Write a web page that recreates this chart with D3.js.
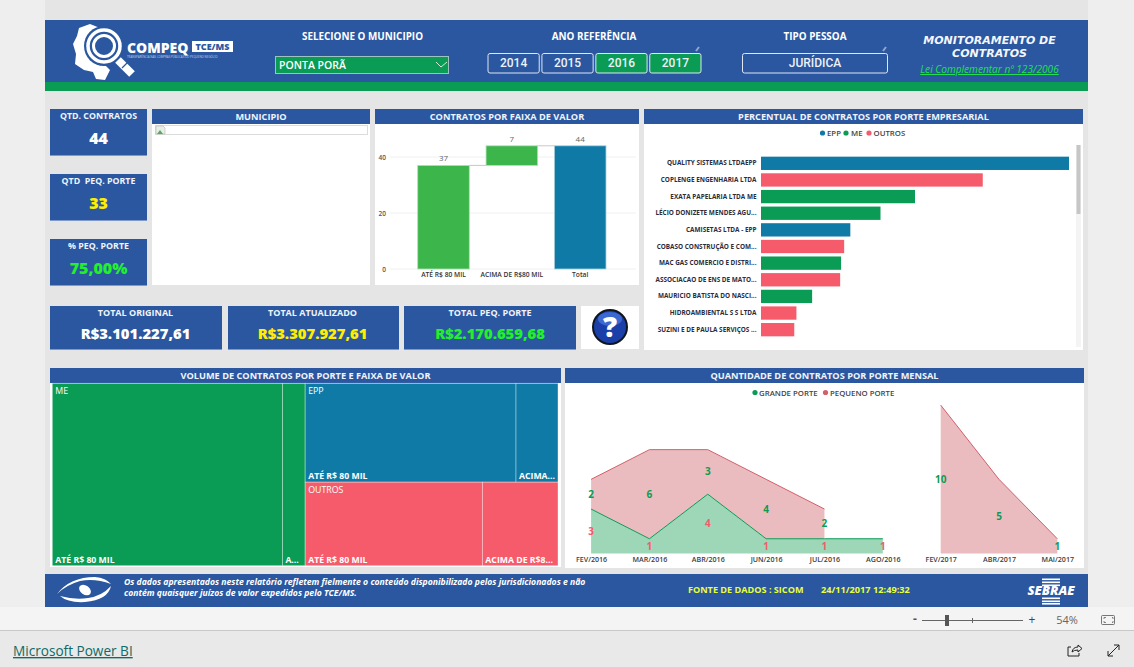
<!DOCTYPE html>
<html>
<head>
<meta charset="utf-8">
<script src="https://cdn.jsdelivr.net/npm/d3@7"></script>
<style>
  html, body { margin: 0; padding: 0; background: #eeeeee; overflow: hidden; }
  svg { display: block; }
  text { font-family: "Open Sans", sans-serif; }
  .axis path, .axis line { display: none; }
</style>
</head>
<body>
<div id="chart"></div>
<script>
// Colours
const BLUE = '#2a57a0', GREEN = '#0a9b54', TEAL = '#107aa6', PINK = '#f55b6a';
const BAR_GREEN = '#3cb54b', AREA_RED = '#d0616a';

// Waterfall data
const faixaLabels = ['ATÉ R$ 80 MIL', 'ACIMA DE R$80 MIL', 'Total'];
const faixaStart = [0, 37, 0];
const faixaEnd = [37, 44, 44];
const faixaText = ['37', '7', '44'];
const faixaTicks = [0, 20, 40];

// Horizontal bars
const empresas = ['QUALITY SISTEMAS LTDAEPP', 'COPLENGE ENGENHARIA LTDA', 'EXATA PAPELARIA LTDA ME',
  'LÉCIO DONIZETE MENDES AGU...', 'CAMISETAS LTDA - EPP', 'COBASO CONSTRUÇÃO E COM...',
  'MAC GAS COMERCIO E DISTRI...', 'ASSOCIACAO DE ENS DE MATO...', 'MAURICIO BATISTA DO NASCI...',
  'HIDROAMBIENTAL S S LTDA', 'SUZINI E DE PAULA SERVIÇOS ...'];
const empresaPct = [100, 72, 50, 38.8, 29, 27, 26, 25.7, 16.6, 11.5, 10.8];
const empresaPorte = ['EPP', 'OUTROS', 'ME', 'ME', 'EPP', 'OUTROS', 'ME', 'OUTROS', 'ME', 'OUTROS', 'OUTROS'];
const porteNames = ['EPP', 'ME', 'OUTROS'];

// Treemap shares (%)
const tmME = [45.5, 4.5];
const tmEPP = [22.6, 4.5];
const tmOUTROS = [16.05, 6.85];
const tmLabelsME = ['ATÉ R$ 80 MIL', 'A...'];
const tmLabelsEPP = ['ATÉ R$ 80 MIL', 'ACIMA...'];
const tmLabelsOUTROS = ['ATÉ R$ 80 MIL', 'ACIMA DE R$8...'];

// Monthly contracts, two separate runs of months
const meses2016 = ['FEV/2016', 'MAR/2016', 'ABR/2016', 'JUN/2016', 'JUL/2016', 'AGO/2016'];
const grande2016 = [3, 1, 4, 1, 1, 1];
const pequeno2016 = [2, 6, 3, 4, 2, null];
const meses2017 = ['FEV/2017', 'ABR/2017', 'MAI/2017'];
const grande2017 = [null, null, null];
const pequeno2017 = [10, 5, 1];

const svg = d3.select('#chart').append('svg').attr('width', 1134).attr('height', 667);

function rect(x0, y0, x1, y1, fill) {
  return svg.append('rect').attr('x', x0).attr('y', y0).attr('width', x1 - x0).attr('height', y1 - y0).attr('fill', fill);
}
function label(x, y, str, size, fill, weight, anchor) {
  return svg.append('text').attr('x', x).attr('y', y).text(str)
    .attr('font-size', size).attr('fill', fill)
    .attr('font-weight', weight || 600).attr('text-anchor', anchor || 'middle');
}
function panelHead(x0, x1, y0, str) {
  rect(x0, y0, x1, y0 + 15, BLUE);
  label((x0 + x1) / 2, y0 + 11, str, 9.2, '#f0f4fa', 700);
}

// Page background
rect(45, 0, 1088, 607, '#e5e5e5');
rect(0, 607, 1134, 631, '#f4f4f4');
rect(0, 631, 1134, 667, '#e9e9e9');
rect(0, 630, 1134, 631, '#c8c8c8');

// ---------- Header ----------
rect(45, 20, 1088, 82, BLUE);
rect(45, 82, 1088, 91, GREEN);

// Logo: state outline + magnifier
svg.append('path').attr('fill', '#fff')
  .attr('d', 'M79 28 L90 24 L100 28 L114 32 L106 42 L100 60 L110 70 L105 80 L96 79 L93 72 L84 70 L75 64 L76 54 L73 44 L77 36 Z');
svg.append('circle').attr('cx', 104).attr('cy', 46).attr('r', 20).attr('fill', BLUE);
svg.append('circle').attr('cx', 104).attr('cy', 46).attr('r', 16).attr('fill', 'none').attr('stroke', '#fff').attr('stroke-width', 3.5);
svg.append('circle').attr('cx', 104).attr('cy', 46).attr('r', 10.5).attr('fill', BLUE).attr('stroke', '#fff').attr('stroke-width', 3);
svg.append('line').attr('x1', 118).attr('y1', 60).attr('x2', 132).attr('y2', 74).attr('stroke', '#fff').attr('stroke-width', 8);
svg.append('line').attr('x1', 122).attr('y1', 68).attr('x2', 128).attr('y2', 62).attr('stroke', BLUE).attr('stroke-width', 1.2);
label(127, 52.5, 'COMPEQ', 14, '#fff', 800, 'start');
rect(192, 41, 233, 52, '#fff');
label(212.5, 50, 'TCE/MS', 9, BLUE, 800);
label(127, 58, 'TRANSPARÊNCIA NAS COMPRAS PÚBLICAS DO PEQUENO NEGÓCIO', 2.9, '#c8d4ea', 400, 'start');

label(362.5, 40, 'SELECIONE O MUNICIPIO', 9.9, '#fff', 700);
label(594, 40, 'ANO REFERÊNCIA', 9.9, '#fff', 700);
label(815, 40, 'TIPO PESSOA', 9.9, '#fff', 700);

// Município dropdown
rect(275.5, 56.5, 448.5, 73.5, GREEN).attr('stroke', '#9cc3c0').attr('stroke-width', 1);
label(279, 69, 'PONTA PORÃ', 10.5, '#fff', 600, 'start');
svg.append('path').attr('d', 'M436 62 L441 67 L447 62').attr('fill', 'none').attr('stroke', '#cfe9dd').attr('stroke-width', 1);

// Year slicer
const anos = ['2014', '2015', '2016', '2017'];
const anosAtivos = ['2016', '2017'];
const anoX = d3.scaleBand().domain(anos).range([488, 701]).paddingInner(0.05);
anos.forEach(a => {
  svg.append('rect').attr('x', anoX(a)).attr('y', 53.5).attr('width', anoX.bandwidth()).attr('height', 19.5)
    .attr('rx', 2).attr('fill', anosAtivos.includes(a) ? GREEN : BLUE).attr('stroke', '#dfe7f3').attr('stroke-width', 1);
  label(anoX(a) + anoX.bandwidth() / 2, 67, a, 12, '#eef2f8', 500).style('font-family', 'Roboto, sans-serif');
});

// Tipo pessoa
svg.append('rect').attr('x', 742.5).attr('y', 53.5).attr('width', 145).attr('height', 19.5).attr('rx', 2)
  .attr('fill', BLUE).attr('stroke', '#dfe7f3').attr('stroke-width', 1);
label(815, 67, 'JURÍDICA', 12, '#eef2f8', 500).style('font-family', 'Roboto, sans-serif');

// Small pencil marks over the slicers
[698, 885].forEach(x => {
  svg.append('line').attr('x1', x - 2).attr('y1', 51).attr('x2', x + 1).attr('y2', 47).attr('stroke', '#8fa6cc').attr('stroke-width', 2);
});

// Title block
label(989.5, 44, 'MONITORAMENTO DE', 11, '#f4f6fb', 700).attr('font-style', 'italic').style('font-family', '"DejaVu Sans", sans-serif');
label(989.5, 57, 'CONTRATOS', 11, '#f4f6fb', 700).attr('font-style', 'italic').style('font-family', '"DejaVu Sans", sans-serif');
label(989.5, 73, 'Lei Complementar nº 123/2006', 10.1, '#21e04b', 400).attr('font-style', 'italic').attr('text-decoration', 'underline');

// ---------- KPI cards ----------
const kpiTitles = ['QTD. CONTRATOS', 'QTD  PEQ. PORTE', '% PEQ. PORTE'];
const kpiValues = ['44', '33', '75,00%'];
const kpiColors = ['#ffffff', '#ffee00', '#22f02c'];
kpiTitles.forEach((t, i) => {
  const y0 = [109, 174, 239][i];
  rect(50, y0, 147, y0 + 46, BLUE);
  rect(50, y0 + 46, 147, y0 + 47, '#7f9ac8');
  label(98.5, y0 + 10, t, 8.8, '#f0f4fa', 700).style('white-space', 'pre');
  label(98.5, y0 + 35, kpiValues[i], 16, kpiColors[i], 800);
});

const totalTitles = ['TOTAL ORIGINAL', 'TOTAL ATUALIZADO', 'TOTAL PEQ. PORTE'];
const totalValues = ['R$3.101.227,61', 'R$3.307.927,61', 'R$2.170.659,68'];
const totalColors = ['#ffffff', '#ffee00', '#22f02c'];
const totalX = [[50, 222], [228, 399], [404, 576]];
const totalCenter = [135.5, 312.5, 490];
totalTitles.forEach((t, i) => {
  const [x0, x1] = totalX[i];
  rect(x0, 306, x1, 349, BLUE);
  rect(x0, 349, x1, 350, '#7f9ac8');
  label(totalCenter[i], 316, t, 9, '#f0f4fa', 700);
  label(totalCenter[i], 339, totalValues[i], 14.8, totalColors[i], 800);
});

// Help button
rect(581, 306, 639, 349, '#ffffff');
svg.append('circle').attr('cx', 610).attr('cy', 327).attr('r', 17).attr('fill', '#1a3fa8').attr('stroke', '#10151f').attr('stroke-width', 2);
svg.append('ellipse').attr('cx', 610).attr('cy', 319).attr('rx', 12).attr('ry', 7).attr('fill', '#4c7ce0').attr('opacity', 0.7);
label(610, 337, '?', 28, '#ffffff', 800);

// ---------- Municipio panel ----------
panelHead(152, 370, 109, 'MUNICIPIO');
rect(152, 124, 370, 285, '#ffffff');
svg.append('rect').attr('x', 155.5).attr('y', 125.5).attr('width', 212).attr('height', 9)
  .attr('fill', '#fff').attr('stroke', '#dcdcdc').attr('stroke-width', 1);
// broken image placeholder
svg.append('path').attr('d', 'M156 126 h7 l2 2 v6 h-9 Z').attr('fill', '#e8efe6').attr('stroke', '#b5b5b5').attr('stroke-width', 0.6);
svg.append('path').attr('d', 'M157 134 l3 -4 l3 4 Z').attr('fill', '#5aa860');

// ---------- Waterfall ----------
panelHead(375, 639, 109, 'CONTRATOS POR FAIXA DE VALOR');
rect(375, 124, 639, 285, '#ffffff');
const wfX = d3.scaleBand().domain(faixaLabels).range([417.7, 606]).paddingInner(0.245).paddingOuter(0);
const wfY = d3.scaleLinear().domain([0, 40]).range([269, 157]);

svg.append('g').selectAll('line').data(faixaTicks).join('line')
  .attr('x1', 390).attr('x2', 636).attr('y1', d => wfY(d)).attr('y2', d => wfY(d))
  .attr('stroke', '#f0f0f0').attr('stroke-width', 1);

svg.append('g').attr('class', 'axis').attr('transform', 'translate(386,0)')
  .call(d3.axisLeft(wfY).tickValues(faixaTicks).tickSize(0).tickPadding(0))
  .call(g => g.selectAll('text').attr('font-size', 6.5).attr('fill', '#555').attr('font-weight', 600)
    .style('font-family', '"Open Sans", sans-serif'));

// connector lines between the steps
faixaEnd.slice(0, -1).forEach((v, i) => {
  svg.append('line').attr('x1', wfX(faixaLabels[i]) + wfX.bandwidth()).attr('x2', wfX(faixaLabels[i + 1]))
    .attr('y1', wfY(v)).attr('y2', wfY(v)).attr('stroke', '#c8c8c8').attr('stroke-width', 1);
});

svg.append('g').selectAll('rect').data(faixaLabels).join('rect')
  .attr('x', d => wfX(d)).attr('width', wfX.bandwidth())
  .attr('y', (d, i) => wfY(faixaEnd[i]))
  .attr('height', (d, i) => wfY(faixaStart[i]) - wfY(faixaEnd[i]))
  .attr('fill', (d, i) => i === 2 ? TEAL : BAR_GREEN)
  .attr('stroke', (d, i) => i === 2 ? '#a9cfdf' : '#b3dfb9').attr('stroke-width', 0.8);

faixaLabels.forEach((d, i) => {
  label(wfX(d) + wfX.bandwidth() / 2, wfY(faixaEnd[i]) - 4, faixaText[i], 8, '#666', 500);
});

svg.append('g').attr('class', 'axis').attr('transform', 'translate(0,269)')
  .call(d3.axisBottom(wfX).tickSize(0).tickPadding(3))
  .call(g => g.selectAll('text').attr('font-size', 6.7).attr('fill', '#333').attr('font-weight', 600)
    .style('font-family', '"Open Sans", sans-serif'));

// ---------- Horizontal bars ----------
panelHead(644, 1083, 109, 'PERCENTUAL DE CONTRATOS POR PORTE EMPRESARIAL');
rect(644, 124, 1083, 350, '#ffffff');
const porteColor = d3.scaleOrdinal().domain(porteNames).range([TEAL, GREEN, PINK]);

// legend
[[822.5, 827], [846, 851], [869, 873.5]].forEach(([cx, tx], i) => {
  svg.append('circle').attr('cx', cx).attr('cy', 133).attr('r', 2.6).attr('fill', porteColor(porteNames[i]));
  label(tx, 136, porteNames[i], 7.8, '#444', 600, 'start');
});

const barX = d3.scaleLinear().domain([0, 100]).range([761, 1069]);
const barY = d3.scaleBand().domain(empresas).range([155, 338]).paddingInner(0.2).paddingOuter(0.1);

svg.append('g').selectAll('rect').data(empresas).join('rect')
  .attr('x', barX(0)).attr('y', d => barY(d))
  .attr('width', (d, i) => barX(empresaPct[i]) - barX(0)).attr('height', barY.bandwidth())
  .attr('fill', (d, i) => porteColor(empresaPorte[i]));

svg.append('g').attr('class', 'axis').attr('transform', 'translate(760,0)')
  .call(d3.axisLeft(barY).tickSize(0).tickPadding(3.5))
  .call(g => g.selectAll('text').attr('font-size', 6.4).attr('fill', '#2c2c3c').attr('font-weight', 700)
    .style('font-family', '"Open Sans", sans-serif'));

// scrollbar
rect(1076, 145, 1081, 347, '#f4f4f4');
rect(1076.5, 145, 1080.5, 214, '#c6c6c6');

// ---------- Treemap ----------
panelHead(50, 561, 368, 'VOLUME DE CONTRATOS POR PORTE E FAIXA DE VALOR');
rect(50, 383, 561, 567, '#ffffff');

const tmData = {
  name: 'root',
  children: [
    { name: 'ME', color: GREEN, children: tmME.map((v, i) => ({ name: tmLabelsME[i], value: v })) },
    { name: 'EPP', color: TEAL, children: tmEPP.map((v, i) => ({ name: tmLabelsEPP[i], value: v })) },
    { name: 'OUTROS', color: PINK, children: tmOUTROS.map((v, i) => ({ name: tmLabelsOUTROS[i], value: v })) }
  ]
};
// biggest group takes a full-height column, the others stack on its right
function tmTile(node, x0, y0, x1, y1) {
  if (node.depth === 0) {
    const first = node.children[0];
    const xm = x0 + (x1 - x0) * first.value / node.value;
    first.x0 = x0; first.x1 = xm; first.y0 = y0; first.y1 = y1;
    const rest = { children: node.children.slice(1), value: node.value - first.value };
    d3.treemapSlice(rest, xm, y0, x1, y1);
  } else {
    d3.treemapDice(node, x0, y0, x1, y1);
  }
}
const tmRoot = d3.hierarchy(tmData).sum(d => d.value || 0);
d3.treemap().tile(tmTile).size([505.7, 182.4])(tmRoot);

const tmG = svg.append('g').attr('transform', 'translate(52.3,383.3)');
tmG.selectAll('rect').data(tmRoot.leaves()).join('rect')
  .attr('x', d => d.x0).attr('y', d => d.y0)
  .attr('width', d => d.x1 - d.x0).attr('height', d => d.y1 - d.y0)
  .attr('fill', d => d.parent.data.color)
  .attr('stroke', 'rgba(255,255,255,0.45)').attr('stroke-width', 0.8);
tmG.selectAll('text.group').data(tmRoot.children).join('text').attr('class', 'group')
  .attr('x', d => d.x0 + 3).attr('y', d => d.y0 + 11).text(d => d.data.name)
  .attr('font-size', 8.8).attr('fill', '#fff').attr('font-weight', 500);
tmG.selectAll('text.leaf').data(tmRoot.leaves()).join('text').attr('class', 'leaf')
  .attr('x', d => d.x0 + 3).attr('y', d => d.y1 - 3).text(d => d.data.name)
  .attr('font-size', 8.7).attr('fill', '#fff').attr('font-weight', 700);

// ---------- Area chart ----------
panelHead(565, 1084, 368, 'QUANTIDADE DE CONTRATOS POR PORTE MENSAL');
rect(565, 383, 1084, 568, '#ffffff');

svg.append('circle').attr('cx', 755).attr('cy', 392.5).attr('r', 2.6).attr('fill', GREEN);
label(759, 395.5, 'GRANDE PORTE', 7.8, '#444', 600, 'start');
svg.append('circle').attr('cx', 825.5).attr('cy', 392.5).attr('r', 2.6).attr('fill', AREA_RED);
label(830, 395.5, 'PEQUENO PORTE', 7.8, '#444', 600, 'start');

const areaY = d3.scaleLinear().domain([0, 10]).range([553.6, 405.1]);

function drawRun(meses, grande, pequeno, x0, x1) {
  const x = d3.scalePoint().domain(meses).range([x0, x1]);
  const rows = meses.map((m, i) => ({
    m, g: grande[i] || 0, p: pequeno[i], hasG: grande[i] != null, hasP: pequeno[i] != null
  }));

  const green = rows.filter(d => d.hasG);
  if (green.length) {
    svg.append('path').datum(green).attr('fill', '#9dd7b8')
      .attr('d', d3.area().x(d => x(d.m)).y0(areaY(0)).y1(d => areaY(d.g)));
  }
  const red = rows.filter(d => d.hasP);
  svg.append('path').datum(red).attr('fill', '#ebbcbf')
    .attr('d', d3.area().x(d => x(d.m)).y0(d => areaY(d.g)).y1(d => areaY(d.g + d.p)));
  if (green.length) {
    svg.append('path').datum(green).attr('fill', 'none').attr('stroke', GREEN).attr('stroke-width', 1)
      .attr('d', d3.line().x(d => x(d.m)).y(d => areaY(d.g)));
  }
  svg.append('path').datum(red).attr('fill', 'none').attr('stroke', AREA_RED).attr('stroke-width', 1)
    .attr('d', d3.line().x(d => x(d.m)).y(d => areaY(d.g + d.p)));

  // value labels sit in the middle of each band
  green.forEach(d => {
    label(x(d.m), areaY(d.g / 2) + 3.5, d.g, 10, PINK, 700);
  });
  red.forEach(d => {
    label(x(d.m), areaY(d.g + d.p / 2) + 3.5, d.p, 10, GREEN, 700);
  });

  svg.append('g').attr('class', 'axis').attr('transform', 'translate(0,553.6)')
    .call(d3.axisBottom(x).tickSize(0).tickPadding(3))
    .call(g => g.selectAll('text').attr('font-size', 7.1).attr('fill', '#3c3c3c').attr('font-weight', 600)
      .style('font-family', '"Open Sans", sans-serif'));
}
drawRun(meses2016, grande2016, pequeno2016, 591.1, 882.8);
drawRun(meses2017, grande2017, pequeno2017, 940.7, 1057.3);

// ---------- Footer ----------
rect(45, 574, 1088, 607, BLUE);
svg.append('path').attr('fill', '#fff')
  .attr('d', 'M57 594 Q70 577 95 577 Q106 578 111 584 Q95 578 80 581 Q66 585 57 594 Z');
svg.append('path').attr('fill', '#fff')
  .attr('d', 'M111 586 Q108 600 85 602 Q68 603 60 596 Q75 600 88 598 Q102 596 111 586 Z');
svg.append('ellipse').attr('cx', 85).attr('cy', 590).attr('rx', 6.5).attr('ry', 4.5)
  .attr('transform', 'rotate(35 85 590)').attr('fill', '#fff');
label(124, 585, 'Os dados apresentados neste relatório refletem fielmente o conteúdo disponibilizado pelos jurisdicionados e não', 8.65, '#fff', 700, 'start').attr('font-style', 'italic');
label(124, 596, 'contém quaisquer juízos de valor expedidos pelo TCE/MS.', 8.65, '#fff', 700, 'start').attr('font-style', 'italic');
label(688, 593, 'FONTE DE DADOS : SICOM', 9.1, '#eaff3a', 700, 'start');
label(821, 593, '24/11/2017 12:49:32', 9.2, '#eaff3a', 700, 'start');
[578.5, 581.5, 584.5, 597.5, 600.5, 603].forEach(y => rect(1042, y, 1060, y + 1.6, '#fff'));
label(1051, 595, 'SEBRAE', 13, '#fff', 800).attr('font-style', 'italic');

// ---------- Viewer chrome ----------
label(915, 623, '-', 12, '#555', 700);
rect(922, 620, 1023, 621, '#666');
rect(945, 615, 949, 626, '#555');
rect(972, 618, 973, 623, '#666');
label(1032, 624, '+', 12, '#444', 400);
label(1067, 624, '54%', 11, '#666', 400);
svg.append('rect').attr('x', 1101.5).attr('y', 615.5).attr('width', 13).attr('height', 9).attr('rx', 1)
  .attr('fill', 'none').attr('stroke', '#555').attr('stroke-width', 0.8);
svg.append('path').attr('d', 'M1104 619 v-1.5 h2 M1112 617.5 h1 v1.5 M1104 621 v1.5 h2 M1113 621 v1.5 h-1')
  .attr('fill', 'none').attr('stroke', '#555').attr('stroke-width', 0.7);
label(13, 656, 'Microsoft Power BI', 13.6, '#0e6b66', 400, 'start')
  .attr('text-decoration', 'underline').style('font-family', '"Open Sans", sans-serif');
// share + expand icons
svg.append('path').attr('d', 'M1071 647 h-3 v9 h11 v-3 M1072 652 q1 -5 6 -5 v-2 l4 3.5 l-4 3.5 v-2 q-4 0 -6 2')
  .attr('fill', 'none').attr('stroke', '#222').attr('stroke-width', 1);
svg.append('path').attr('d', 'M1108 656 l11 -11 M1114 645 h5 v5 M1108 651 v5 h5')
  .attr('fill', 'none').attr('stroke', '#222').attr('stroke-width', 1);
</script>
</body>
</html>
